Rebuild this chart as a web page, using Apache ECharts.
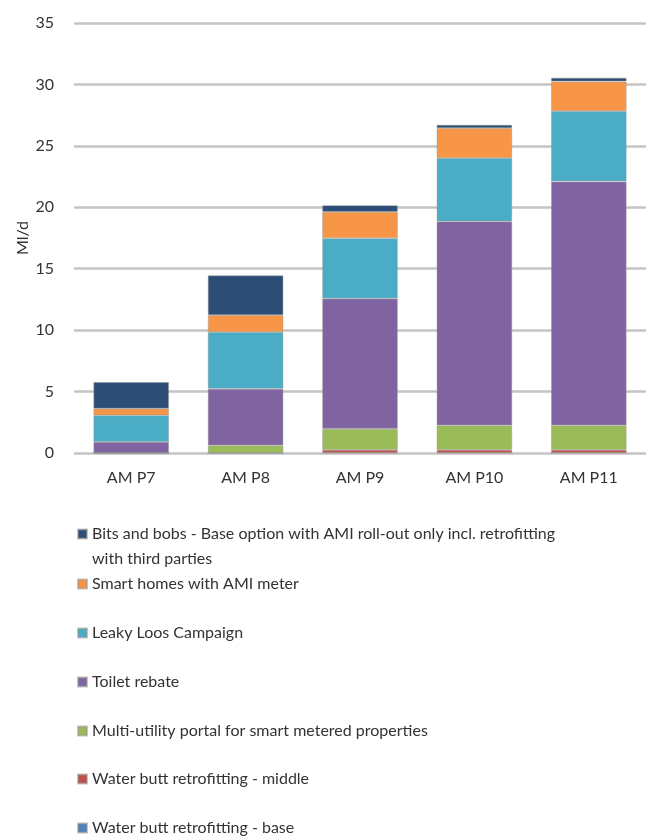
<!DOCTYPE html>
<html>
<head>
<meta charset="utf-8">
<script src="https://cdn.jsdelivr.net/npm/echarts@6/dist/echarts.min.js"></script>
<style>
  html, body { margin: 0; padding: 0; background: #fff; }
  #chart { width: 646px; height: 837px; }
</style>
</head>
<body>
<div id="chart"></div>
<script>
// Demand savings by AMP period (Ml/d), stacked by scheme
const categories = ['AM P7', 'AM P8', 'AM P9', 'AM P10', 'AM P11'];

const waterButtBase   = [0, 0, 0, 0, 0];
const waterButtMiddle = [0, 0, 0.25, 0.25, 0.25];
const multiUtility    = [0, 0.62, 1.72, 2.0, 2.0];
const toiletRebate    = [0.9, 4.61, 10.6, 16.6, 19.85];
const leakyLoos       = [2.17, 4.61, 4.91, 5.15, 5.72];
const smartHomes      = [0.55, 1.38, 2.15, 2.44, 2.42];
const bitsAndBobs     = [2.15, 3.23, 0.53, 0.27, 0.3];

const yTicks = [0, 5, 10, 15, 20, 25, 30, 35];

const seriesDefs = [
  { name: 'Water butt retrofitting - base', data: waterButtBase, color: '#4F81BD' },
  { name: 'Water butt retrofitting - middle', data: waterButtMiddle, color: '#C0504D' },
  { name: 'Multi-utility portal for smart metered properties', data: multiUtility, color: '#9BBB59' },
  { name: 'Toilet rebate', data: toiletRebate, color: '#8064A2' },
  { name: 'Leaky Loos Campaign', data: leakyLoos, color: '#4BACC6' },
  { name: 'Smart homes with AMI meter', data: smartHomes, color: '#F79646' },
  { name: 'Bits and bobs - Base option with AMI roll-out only incl. retrofitting', data: bitsAndBobs, color: '#2C4D75' }
];

const FONT = 'Lato, "Open Sans", sans-serif';
const TEXT = '#333333';

// Legend rows, top to bottom (centre y of each entry's first line)
const legendRows = [
  { idx: 6, y: 534, extra: 'with third parties' },
  { idx: 5, y: 584 },
  { idx: 4, y: 633 },
  { idx: 3, y: 682 },
  { idx: 2, y: 731 },
  { idx: 1, y: 779 },
  { idx: 0, y: 828 }
];

const LH = 25;
const legends = legendRows.map(r => {
  const two = !!r.extra;
  return {
    left: 77,
    // a blank first line keeps the swatch level with the entry's first text line
    top: two ? r.y - LH * 1.5 : r.y - LH / 2,
    padding: 0,
    orient: 'vertical',
    icon: 'rect',
    itemWidth: 9,
    itemHeight: 9,
    selectedMode: false,
    data: [seriesDefs[r.idx].name],
    formatter: two ? (n => ' \n' + n + '\n' + r.extra) : undefined,
    textStyle: {
      fontFamily: FONT,
      fontSize: 16,
      color: TEXT,
      lineHeight: LH
    }
  };
});

const chart = echarts.init(document.getElementById('chart'), null, { renderer: 'canvas' });

chart.setOption({
  animation: false,
  backgroundColor: '#fff',
  grid: { left: 74, top: 23, width: 582, height: 430 },
  legend: legends,
  xAxis: {
    type: 'category',
    data: categories,
    axisLine: { show: false },
    axisTick: { show: false },
    axisLabel: { margin: 17, fontFamily: FONT, fontSize: 16, color: TEXT }
  },
  yAxis: {
    type: 'value',
    min: yTicks[0],
    max: yTicks[yTicks.length - 1],
    interval: 5,
    name: 'Ml/d',
    nameLocation: 'middle',
    nameGap: 43,
    nameMoveOverlap: false,
    nameTextStyle: { fontFamily: FONT, fontSize: 16, color: TEXT },
    axisLine: { show: false },
    axisTick: { show: false },
    axisLabel: { margin: 20, fontFamily: FONT, fontSize: 16, color: TEXT },
    splitLine: { lineStyle: { color: '#c4c4c4', width: 2.5 } }
  },
  series: seriesDefs.map(s => ({
    name: s.name,
    type: 'bar',
    stack: 'total',
    barCategoryGap: '34%',
    data: s.data,
    itemStyle: { color: s.color, borderColor: 'rgba(150,150,150,0.55)', borderWidth: 0.8 }
  }))
});
</script>
</body>
</html>
